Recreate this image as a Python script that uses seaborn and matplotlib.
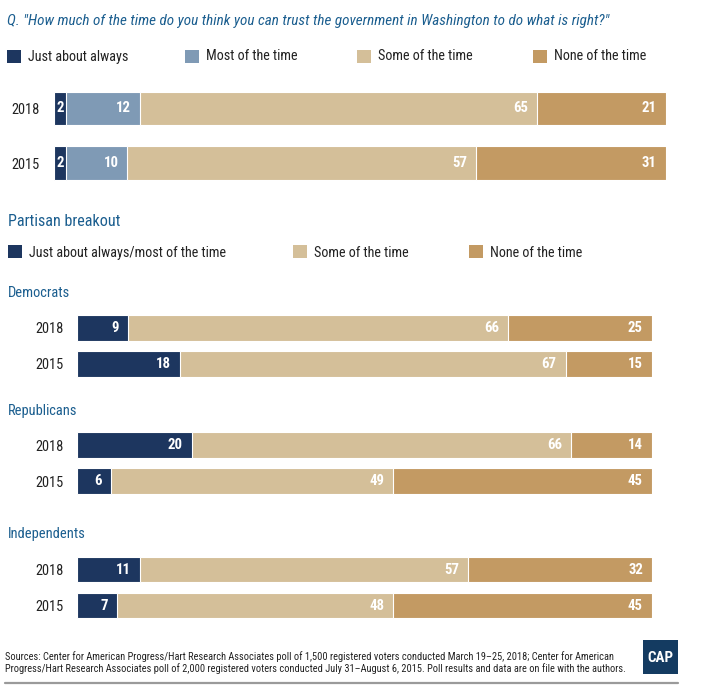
import matplotlib
matplotlib.use("Agg")
import matplotlib.pyplot as plt
from matplotlib import font_manager as fm
from matplotlib.patches import Rectangle
from matplotlib.lines import Line2D
import seaborn as sns
import pandas as pd
import numpy as np

# ---------------- data ----------------
years = ["2018", "2015"]

overall_categories = ["Just about always", "Most of the time", "Some of the time", "None of the time"]
just_about_always = [2, 2]
most_of_the_time = [12, 10]
some_of_the_time = [65, 57]
none_of_the_time = [21, 31]

partisan_categories = ["Just about always/most of the time", "Some of the time", "None of the time"]
groups = ["Democrats", "Republicans", "Independents"]
dem_always_most = [9, 18]
dem_some = [66, 67]
dem_none = [25, 15]
rep_always_most = [20, 6]
rep_some = [66, 49]
rep_none = [14, 45]
ind_always_most = [11, 7]
ind_some = [57, 48]
ind_none = [32, 45]

title_text = 'Q. "How much of the time do you think you can trust the government in Washington to do what is right?"'
section_title = "Partisan breakout"
footnote_lines = [
    "Sources: Center for American Progress/Hart Research Associates poll of 1,500 registered voters conducted March 19\u201325, 2018; Center for American",
    "Progress/Hart Research Associates poll of 2,000 registered voters conducted July 31\u2013August 6, 2015. Poll results and data are on file with the authors.",
]

# ---------------- style ----------------
NAVY = "#1d365f"
STEEL = "#7f9ab5"
TAN = "#d4bf99"
BROWN = "#c39a63"
TITLE_BLUE = "#1b5e8f"
TEXT = "#222222"

sns.set_theme(style="white")
names = {f.name for f in fm.fontManager.ttflist}
FONT, STRETCH = "DejaVu Sans", "condensed"
for cand in ["Liberation Sans Narrow", "Roboto Condensed", "Noto Sans Condensed",
             "Open Sans Condensed", "DejaVu Sans Condensed"]:
    if cand in names:
        FONT, STRETCH = cand, "normal"
        break
plt.rcParams["font.family"] = [FONT, "DejaVu Sans"]
plt.rcParams["font.stretch"] = STRETCH

W, H = 707, 700
fig = plt.figure(figsize=(W / 100, H / 100), dpi=100)
fig.patch.set_facecolor("white")
renderer = fig.canvas.get_renderer()


def fx(px):
    return px / W


def fy(py):
    return 1 - py / H


def size_for(s, target_px, **props):
    t = fig.text(0, 0, s, fontsize=10, **props)
    w = t.get_window_extent(renderer).width
    t.remove()
    return 10 * target_px / w


FS_TITLE = size_for(title_text, 598, style="italic")
FS_LEG = size_for("Just about always", 100)
FS_SECTION = size_for(section_title, 112)
FS_GROUP = size_for("Democrats", 62)
FS_YEAR = min(size_for("2018", 28), 11)
FS_VAL = size_for("18", 15, fontweight="bold")
FS_FOOT = min(size_for(footnote_lines[0], 606), size_for(footnote_lines[1], 618))
FS_LOGO = size_for("CAP", 26, fontweight="bold")


def make_ax(x0, x1, y0, y1):
    return fig.add_axes([fx(x0), fy(y1), fx(x1 - x0), (y1 - y0) / H])


def stacked(ax, series_list, colors, width, pad_px):
    arr = np.array(series_list)
    cum = np.cumsum(arr, axis=0)
    for i in reversed(range(len(series_list))):
        df = pd.DataFrame({"year": years, "right": cum[i]})
        sns.barplot(data=df, x="right", y="year", order=years, orient="y",
                    color=colors[i], saturation=1, width=width,
                    edgecolor="white", linewidth=0.8, ax=ax)
    for i in range(len(series_list)):
        for j in range(len(years)):
            val = arr[i][j]
            right = cum[i][j]
            if val < 5:
                ax.text(right - val / 2, j, str(val), ha="center", va="center",
                        color="white", fontsize=FS_VAL, fontweight="bold")
            else:
                ax.annotate(str(val), xy=(right, j), xytext=(-9, 0),
                            textcoords="offset pixels", ha="right", va="center",
                            color="white", fontsize=FS_VAL, fontweight="bold")
    ax.set_xlim(0, 100)
    ax.set_ylim(1.5, -0.5)
    for s in ax.spines.values():
        s.set_visible(False)
    ax.set_xlabel("")
    ax.set_ylabel("")
    ax.set_xticks([])
    ax.tick_params(axis="y", length=0, pad=pad_px * 0.72, labelsize=FS_YEAR,
                   labelcolor=TEXT)
    ax.set_facecolor("none")


# title
fig.text(fx(7), fy(21), title_text, ha="left", va="center", fontsize=FS_TITLE,
         style="italic", color=TITLE_BLUE)


def legend(entries, xs, ypx):
    for (label, color), x in zip(entries, xs):
        fig.patches.append(Rectangle((fx(x), fy(ypx + 6.5)), fx(14), 13 / H,
                                     transform=fig.transFigure, facecolor=color,
                                     edgecolor="none"))
        fig.text(fx(x + 21), fy(ypx + 0.5), label, ha="left", va="center",
                 fontsize=FS_LEG, color=TEXT)


legend(list(zip(overall_categories, [NAVY, STEEL, TAN, BROWN])), [7, 185, 357, 533], 56)

ax_top = make_ax(54, 665.7, 81, 190.4)
stacked(ax_top, [just_about_always, most_of_the_time, some_of_the_time, none_of_the_time],
        [NAVY, STEEL, TAN, BROWN], 0.61, 14)

fig.text(fx(8), fy(222), section_title, ha="left", va="center", fontsize=FS_SECTION,
         color=TITLE_BLUE)
legend(list(zip(partisan_categories, [NAVY, TAN, BROWN])), [8, 293, 469], 252)

group_data = [
    (dem_always_most, dem_some, dem_none),
    (rep_always_most, rep_some, rep_none),
    (ind_always_most, ind_some, ind_none),
]
group_label_y = [293, 411.5, 534]
group_axes_y = [(309.7, 381.7), (427.3, 499.3), (551.5, 623.5)]
for name, data, ly, (ya, yb) in zip(groups, group_data, group_label_y, group_axes_y):
    fig.text(fx(8), fy(ly), name, ha="left", va="center", fontsize=FS_GROUP,
             color=TITLE_BLUE)
    ax = make_ax(76.5, 652, ya, yb)
    stacked(ax, list(data), [NAVY, TAN, BROWN], 0.72, 12.5)

# footnote
fig.text(fx(5), fy(656.5), footnote_lines[0], ha="left", va="center",
         fontsize=FS_FOOT, color=TEXT)
fig.text(fx(5), fy(668.5), footnote_lines[1], ha="left", va="center",
         fontsize=FS_FOOT, color=TEXT)

# bottom rule
fig.lines.append(Line2D([fx(5), fx(678)], [fy(682.5), fy(682.5)],
                        transform=fig.transFigure, color="#9a9a9a", linewidth=1.6))

# logo
fig.patches.append(Rectangle((fx(643), fy(674)), fx(35), 34 / H,
                             transform=fig.transFigure, facecolor="#143b61",
                             edgecolor="none"))
fig.text(fx(660.5), fy(658), "CAP", ha="center", va="center", fontsize=FS_LOGO,
         fontweight="bold", color="white")

fig.savefig("out.png", dpi=100, facecolor="white")
